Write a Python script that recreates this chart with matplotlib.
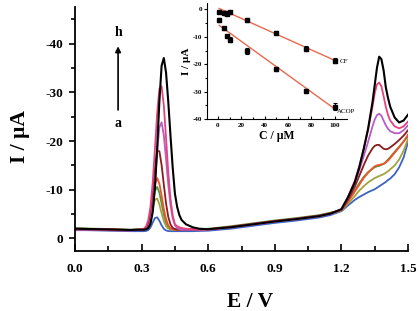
import matplotlib.pyplot as plt
import numpy as np

plt.rcParams['font.family'] = ['Liberation Serif', 'DejaVu Serif']
plt.rcParams['font.weight'] = 'bold'
plt.rcParams['axes.unicode_minus'] = False

# potential grid (V)
E = [0.00, 0.05, 0.10, 0.15, 0.20, 0.25, 0.28,
     0.30, 0.31, 0.32, 0.33, 0.34, 0.35, 0.36, 0.37, 0.38, 0.39,
     0.40, 0.41, 0.42, 0.43, 0.44, 0.45, 0.46, 0.47, 0.48,
     0.50, 0.53, 0.56, 0.60,
     0.70, 0.80, 0.90, 1.00, 1.10, 1.15,
     1.20, 1.23, 1.26, 1.28, 1.30, 1.32, 1.34, 1.35, 1.36, 1.37,
     1.38, 1.39, 1.40, 1.41, 1.42, 1.44, 1.46, 1.48, 1.50]

# currents (uA), curves a..h
I_a = [-1.7, -1.7, -1.65, -1.6, -1.55, -1.5, -1.5,
       -1.5, -1.5, -1.55, -1.73, -2.27, -3.26, -4.20, -4.33, -3.64, -2.69,
       -1.99, -1.65, -1.53, -1.5, -1.5, -1.5, -1.5, -1.5, -1.5,
       -1.5, -1.5, -1.55, -1.6,
       -2.0, -2.6, -3.2, -3.7, -4.3, -4.8,
       -5.6, -6.8, -7.9, -8.5, -9.0, -9.5, -9.9, -10.1, -10.4, -10.7,
       -11.0, -11.3, -11.6, -12.0, -12.3, -13.2, -14.6, -16.6, -19.8]
I_b = [-2.0, -1.95, -1.9, -1.85, -1.8, -1.75, -1.78,
       -1.81, -1.85, -2.05, -2.68, -4.10, -6.17, -7.95, -8.18, -7.0, -5.18,
       -3.56, -2.52, -2.04, -1.87, -1.82, -1.8, -1.8, -1.8, -1.8,
       -1.8, -1.8, -1.8, -1.85,
       -2.3, -2.9, -3.5, -4.0, -4.6, -5.1,
       -5.7, -7.2, -8.7, -9.8, -10.7, -11.5, -12.1, -12.4, -12.6, -12.8,
       -13.0, -13.2, -13.5, -13.8, -14.2, -15.0, -16.2, -18.0, -20.4]
I_c = [-2.1, -2.05, -2.0, -1.95, -1.85, -1.8, -1.85,
       -1.9, -1.95, -2.14, -2.84, -4.48, -7.18, -9.79, -10.57, -9.40, -7.18,
       -4.94, -3.31, -2.43, -2.07, -1.94, -1.9, -1.9, -1.9, -1.9,
       -1.9, -1.9, -1.95, -2.0,
       -2.5, -3.1, -3.7, -4.2, -4.8, -5.3,
       -5.8, -7.7, -9.8, -11.3, -12.6, -13.6, -14.3, -14.6, -14.8, -14.9,
       -15.1, -15.3, -15.7, -16.2, -16.7, -17.8, -18.8, -19.9, -21.0]
I_d = [-2.0, -1.95, -1.9, -1.9, -1.8, -1.75, -1.8,
       -1.8, -1.85, -2.07, -2.81, -4.69, -7.85, -11.15, -12.39, -11.25, -8.80,
       -6.06, -3.97, -2.70, -2.12, -1.88, -1.81, -1.8, -1.8, -1.8,
       -1.8, -1.8, -1.85, -1.9,
       -2.4, -3.0, -3.6, -4.1, -4.7, -5.2,
       -5.8, -7.6, -9.6, -11.0, -12.4, -13.5, -14.4, -14.8, -15.0, -15.1,
       -15.2, -15.3, -15.6, -16.0, -16.5, -17.6, -18.7, -19.9, -21.3]
I_e = [-2.0, -2.0, -1.9, -1.85, -1.8, -1.75, -1.8,
       -1.8, -1.85, -2.10, -2.93, -5.14, -9.30, -14.43, -18.03, -17.89, -15.08,
       -11.05, -7.20, -4.44, -2.90, -2.18, -1.92, -1.83, -1.8, -1.8,
       -1.8, -1.8, -1.8, -1.85,
       -2.35, -2.95, -3.55, -4.05, -4.65, -5.15,
       -5.9, -8.0, -10.6, -12.8, -15.0, -17.0, -18.5, -19.0, -19.2, -19.2,
       -18.8, -18.4, -18.3, -18.4, -18.7, -19.4, -20.2, -21.1, -22.2]
I_f = [-1.9, -1.9, -1.85, -1.8, -1.75, -1.7, -1.75,
       -1.8, -1.82, -1.93, -2.36, -3.60, -6.51, -11.46, -17.78, -22.80, -23.84,
       -21.18, -16.34, -11.08, -6.86, -4.15, -2.73, -2.11, -1.89, -1.8,
       -1.8, -1.8, -1.8, -1.8,
       -2.3, -2.9, -3.5, -4.0, -4.6, -5.1,
       -6.0, -8.4, -11.4, -14.0, -16.8, -19.8, -23.0, -24.4, -25.3, -25.6,
       -25.2, -24.2, -23.2, -22.5, -22.0, -21.6, -21.6, -22.2, -23.2]
I_g = [-1.8, -1.8, -1.75, -1.7, -1.65, -1.65, -1.75,
       -1.86, -2.0, -2.49, -3.77, -6.54, -11.49, -18.40, -25.64, -30.68, -31.21,
       -27.28, -20.60, -13.63, -8.12, -4.69, -2.93, -2.5, -2.3, -2.15,
       -2.0, -1.9, -1.85, -1.85,
       -2.3, -2.9, -3.5, -4.0, -4.6, -5.1,
       -6.0, -8.6, -11.8, -14.8, -18.3, -22.3, -27.0, -29.8, -31.6, -32.0,
       -31.2, -29.2, -27.0, -25.3, -24.2, -23.0, -22.6, -23.0, -24.0]
I_h = [-2.0, -1.95, -1.9, -1.85, -1.8, -1.75, -1.8,
       -1.8, -1.81, -1.88, -2.15, -3.04, -5.38, -10.44, -18.44, -28.10, -35.43,
       -37.02, -34.05, -28.10, -21.13, -14.54, -9.20, -6.5, -4.8, -3.8,
       -2.9, -2.3, -2.0, -1.9,
       -2.3, -2.9, -3.5, -4.0, -4.6, -5.1,
       -6.0, -8.5, -11.5, -14.5, -18.3, -22.5, -28.0, -31.5, -35.0, -37.3,
       -36.8, -34.5, -31.0, -28.8, -27.0, -24.8, -23.8, -24.2, -25.4]

curves = [I_a, I_b, I_c, I_d, I_e, I_f, I_g, I_h]
colors = ['#3d62c4', '#a3a23e', '#4f9a3f', '#f0522a',
          '#8a1c1c', '#b65ec4', '#e6427e', '#000000']

# inset calibration data
C_cf = [0.5, 5, 7, 8, 10, 25, 50, 75, 100]
I_cf = [-0.9, -1.2, -1.3, -1.6, -1.0, -3.9, -8.6, -14.3, -18.7]
err_cf = [0.4, 0.4, 0.4, 0.5, 0.5, 0.7, 0.6, 0.8, 1.0]
C_acop = [0.5, 5, 8, 10, 25, 50, 75, 100]
I_acop = [-3.9, -6.9, -9.7, -11.0, -15.2, -21.7, -29.6, -35.5]
err_acop = [0.8, 0.6, 0.5, 0.8, 1.0, 0.8, 0.7, 1.3]
fit_c = [1, 100]
fit_cf = [0.35, -18.6]
fit_acop = [-5.8, -36.3]

fig = plt.figure(figsize=(4.2, 3.11), dpi=100)
ax = fig.add_axes([0.1786, 0.194, 0.7929, 0.7836])

for cur, col in zip(curves, colors):
    ax.plot(E, cur, color=col, lw=1.5 if col == '#000000' else 1.3)

ax.set_xlim(0, 1.5)
ax.set_ylim(2.5, -47.5)
ax.set_xticks([0.0, 0.3, 0.6, 0.9, 1.2, 1.5])
ax.set_xticks(np.arange(0.15, 1.5, 0.3), minor=True)
ax.set_yticks([0, -10, -20, -30, -40])
ax.set_yticks([-5, -15, -25, -35, -45], minor=True)
ax.set_xticklabels(['0.0', '0.3', '0.6', '0.9', '1.2', '1.5'])
ax.set_yticklabels(['0', '-10', '-20', '-30', '-40'])
for s in ['top', 'right']:
    ax.spines[s].set_visible(False)
for s in ['left', 'bottom']:
    ax.spines[s].set_linewidth(1.3)
ax.tick_params(axis='x', which='major', direction='in', length=5, width=1.2, pad=9, labelsize=9.5)
ax.tick_params(axis='x', which='minor', direction='in', length=3.5, width=1.2)
ax.tick_params(axis='y', which='major', direction='out', length=4.5, width=1.2, pad=4, labelsize=9.5)
ax.tick_params(axis='y', which='minor', direction='out', length=3, width=1.2)

ax.set_xlabel('E / V', fontsize=15.5, fontweight='bold')
ax.xaxis.set_label_coords(0.525, -0.17)
ax.set_ylabel('I / µA', fontsize=15.5, fontweight='bold')
ax.yaxis.set_label_coords(-0.135, 0.467)

ax.annotate('', xy=(0.194, -40.0), xytext=(0.194, -25.8),
            arrowprops=dict(arrowstyle='-|>', color='k', lw=1.2, mutation_scale=8))
ax.text(0.194, -42.3, 'h', ha='center', va='center', fontsize=10)
ax.text(0.194, -23.6, 'a', ha='center', va='center', fontsize=10)

# inset
ins = fig.add_axes([0.494, 0.617, 0.331, 0.373])
ins.plot(fit_c, fit_cf, color='#e8684e', lw=1.0)
ins.plot(fit_c, fit_acop, color='#e8684e', lw=1.0)
ins.errorbar(C_cf, I_cf, yerr=err_cf, fmt='s', color='k', ms=2.8,
             elinewidth=0.8, capsize=1.5, capthick=0.8)
ins.errorbar(C_acop, I_acop, yerr=err_acop, fmt='s', color='k', ms=2.8,
             elinewidth=0.8, capsize=1.5, capthick=0.8)
ins.text(104, -18.9, 'CF', fontsize=5, fontweight='normal', va='center')
ins.text(102, -37.3, 'ACOP', fontsize=5, fontweight='normal', va='center')
ins.set_xlim(-9, 110)
ins.set_ylim(-40, 2.3)
ins.set_xticks([0, 20, 40, 60, 80, 100])
ins.set_xticks([10, 30, 50, 70, 90], minor=True)
ins.set_yticks([0, -10, -20, -30, -40])
ins.set_yticks([-5, -15, -25, -35], minor=True)
for s in ['top', 'right']:
    ins.spines[s].set_visible(False)
ins.tick_params(axis='x', which='both', direction='in', length=2, width=0.8, pad=3, labelsize=5)
ins.tick_params(axis='y', which='both', direction='out', length=2, width=0.8, pad=2, labelsize=5)
ins.tick_params(which='minor', length=1.2)
ins.set_xlabel('C / µM', fontsize=8.5, fontweight='bold', labelpad=1)
ins.set_ylabel('I / µA', fontsize=8, fontweight='bold', labelpad=1)

fig.savefig('out.png', dpi=100)
